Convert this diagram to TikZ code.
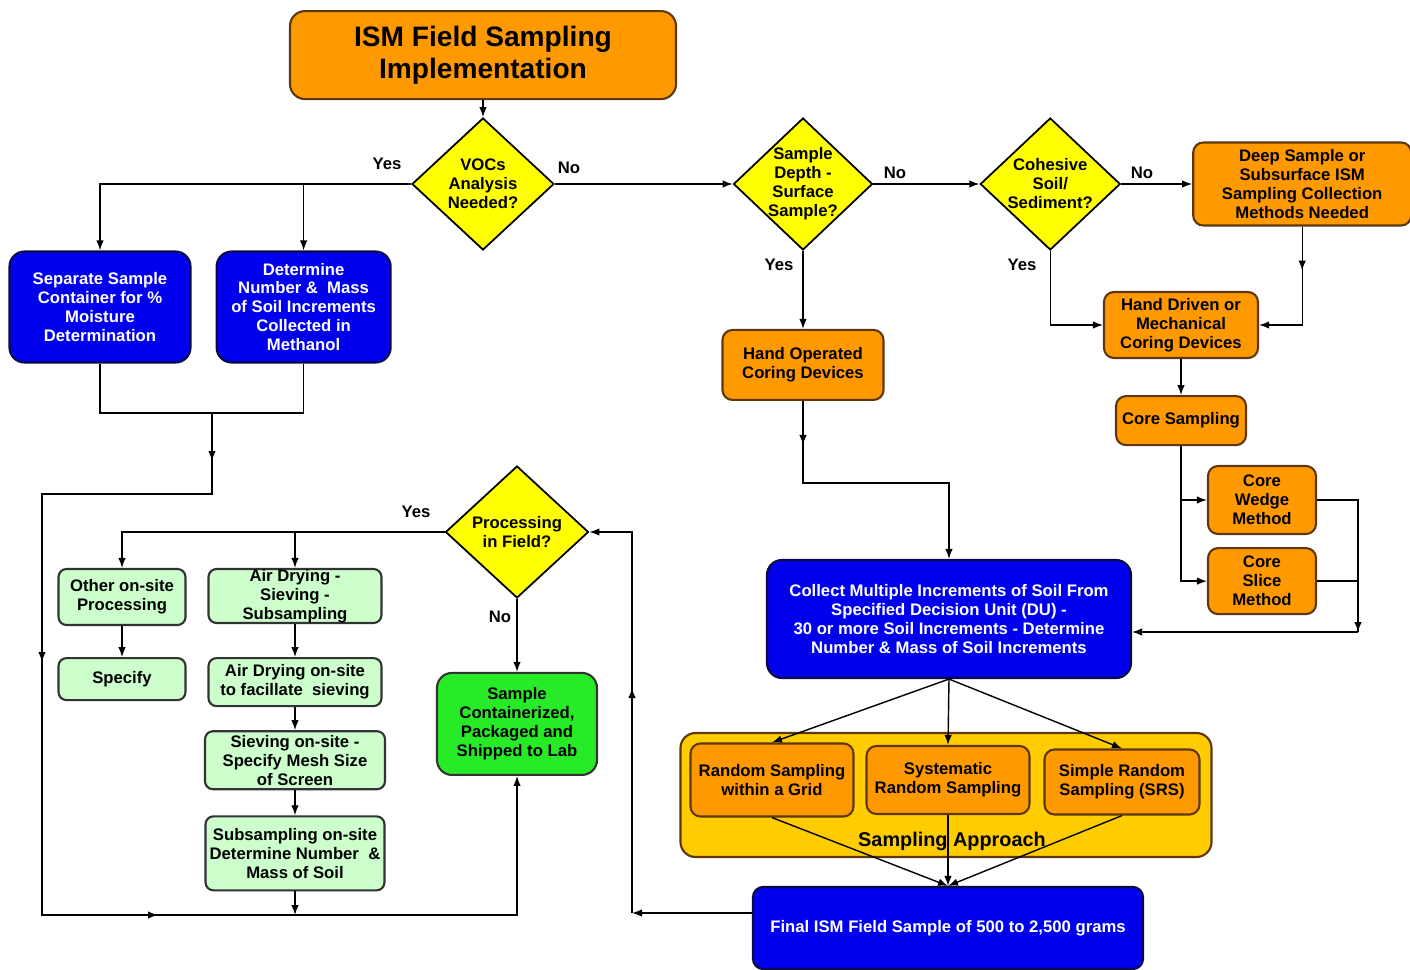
\documentclass[tikz,border=0pt]{standalone}
\usepackage{fontspec}
\setmainfont{Liberation Sans}
\usetikzlibrary{positioning,arrows,arrows.meta,shapes.geometric,calc}
\definecolor{ismorange}{RGB}{255,153,0}
\definecolor{ismblue}{RGB}{0,0,238}
\definecolor{ismyellow}{RGB}{255,255,0}
\definecolor{ismgold}{RGB}{255,204,0}
\definecolor{ismltgreen}{RGB}{204,255,204}
\definecolor{ismgreen}{RGB}{40,235,40}
\definecolor{ismedge}{RGB}{95,55,15}
\definecolor{ismnavy}{RGB}{10,10,70}
\newcommand{\boxfont}{\bfseries\fontsize{9.5}{10.8}\selectfont}
\tikzstyle{titlebox}=[rectangle, rounded corners=3mm, draw=ismedge, fill=ismorange,
 line width=1.2pt, minimum width=77.2mm, minimum height=17.6mm, align=center,
 font=\bfseries\fontsize{16}{18.5}\selectfont]
\tikzstyle{orangebox}=[rectangle, rounded corners=2mm, draw=ismedge, fill=ismorange,
 line width=1.2pt, inner sep=0pt, align=center, font=\boxfont]
\tikzstyle{bluebox}=[rectangle, rounded corners=3mm, draw=ismnavy, fill=ismblue, text=white,
 line width=1.2pt, inner sep=0pt, align=center, font=\boxfont]
\tikzstyle{greenbox}=[rectangle, rounded corners=3mm, draw=black!80, fill=ismgreen,
 line width=1.2pt, inner sep=0pt, align=center, font=\boxfont]
\tikzstyle{ltgreenbox}=[rectangle, rounded corners=1.6mm, draw=black!80, fill=ismltgreen,
 line width=1.2pt, inner sep=0pt, align=center, font=\boxfont]
\tikzstyle{goldbox}=[rectangle, rounded corners=3mm, draw=ismedge, fill=ismgold, line width=1.2pt]
\tikzstyle{decision}=[diamond, draw=black, fill=ismyellow, line width=1pt,
 minimum width=28.4mm, minimum height=26.4mm, inner sep=0pt]
\tikzstyle{dtext}=[align=center, inner sep=0pt, font=\boxfont]
\tikzstyle{lbl}=[font=\boxfont]
\tikzstyle{line}=[->, thick]
\tikzstyle{plain}=[-, thick]

\begin{document}
\begin{tikzpicture}[x=0.2mm, y=-0.2mm, >={Latex[length=2mm,width=1.5mm]}]
\fill[white] (0,0) rectangle (1410,970);
\useasboundingbox (0,0) rectangle (1410,970);

% top row of decisions
\node (vocs) [decision, label={[dtext]center:{VOCs\\Analysis\\Needed?}}] at (483,184) {};
\node (title) [titlebox, above=3.4mm of vocs] {ISM Field Sampling\\Implementation};
\node (depth) [decision, minimum width=27.8mm, label={[dtext]center:{Sample\\Depth -\\Surface\\Sample?}}] at (803,184) {};
\node (cohesive) [decision, minimum width=28mm, right=21.2mm of depth, label={[dtext]center:{Cohesive\\Soil/\\Sediment?}}] {};
\node (deep) [orangebox, minimum width=43.6mm, minimum height=16.6mm, right=14.2mm of cohesive] {Deep Sample or\\Subsurface ISM\\Sampling Collection\\Methods Needed};

% VOCs branch
\node (sep) [bluebox, minimum width=36.2mm, minimum height=22.2mm] at (100,307) {Separate Sample\\Container for \%\\Moisture\\Determination};
\node (det) [bluebox, minimum width=34.8mm, minimum height=22.2mm, right=4.8mm of sep] {Determine\\Number \& \ Mass\\of Soil Increments\\Collected in\\Methanol};

% coring devices
\node (handop) [orangebox, minimum width=32.2mm, minimum height=14mm, below=15.6mm of depth] {Hand Operated\\Coring Devices};
\node (handdriven) [orangebox, minimum width=30.8mm, minimum height=13.2mm] at (1181,325) {Hand Driven or\\Mechanical\\Coring Devices};
\node (coresamp) [orangebox, minimum width=26mm, minimum height=9.8mm, below=7.2mm of handdriven] {Core Sampling};
\node (wedge) [orangebox, minimum width=21.6mm, minimum height=13.6mm] at (1262,500) {Core\\Wedge\\Method};
\node (slice) [orangebox, minimum width=21.6mm, minimum height=13.2mm, below=2.4mm of wedge] {Core\\Slice\\Method};

% collection and sampling approach
\node (collect) [bluebox, minimum width=72.8mm, minimum height=23.6mm] at (949,619) {Collect Multiple Increments of Soil From\\Specified Decision Unit (DU) -\\30 or more Soil Increments - Determine\\Number \& Mass of Soil Increments};
\node (approach) [goldbox, minimum width=106.2mm, minimum height=24.8mm] at (946,795) {};
\node (randgrid) [orangebox, minimum width=32.6mm, minimum height=14.6mm] at (772,780) {Random Sampling\\within a Grid};
\node (systematic) [orangebox, minimum width=32.6mm, minimum height=13.6mm] at (948,780) {Systematic\\Random Sampling};
\node (srs) [orangebox, minimum width=31mm, minimum height=13mm] at (1122,782) {Simple Random\\Sampling (SRS)};
\node (apptext) [font=\bfseries\fontsize{11.3}{13}\selectfont] at (952,841) {Sampling Approach};
\node (final) [bluebox, minimum width=78mm, minimum height=16.4mm, rounded corners=2mm] at (948,928) {Final ISM Field Sample of 500 to 2,500 grams};

% field processing
\node (procfield) [decision, minimum width=28.6mm, label={[dtext]center:{Processing\\in Field?}}] at (517,532) {};
\node (shipped) [greenbox, minimum width=32mm, minimum height=20.4mm, below=14.6mm of procfield] {Sample\\Containerized,\\Packaged and\\Shipped to Lab};
\node (other) [ltgreenbox, minimum width=25.4mm, minimum height=11.2mm] at (122,597) {Other on-site\\Processing};
\node (specify) [ltgreenbox, minimum width=25.4mm, minimum height=8.4mm, below=6.2mm of other] {Specify};
\node (airdry) [ltgreenbox, minimum width=34.6mm, minimum height=10.8mm] at (295,596) {Air Drying -\\Sieving -\\Subsampling};
\node (airdryon) [ltgreenbox, minimum width=34.6mm, minimum height=9.6mm, below=6.6mm of airdry] {Air Drying on-site\\to facillate \ sieving};
\node (sieving) [ltgreenbox, minimum width=36mm, minimum height=11.6mm, below=4.6mm of airdryon] {Sieving on-site -\\Specify Mesh Size\\of Screen};
\node (subsamp) [ltgreenbox, minimum width=35.8mm, minimum height=14.8mm, below=5mm of sieving] {Subsampling on-site\\Determine Number \ \&\\Mass of Soil};

% yes / no labels
\node (yes1) [lbl] at (387,164) {Yes};
\node (no1) [lbl] at (569,168) {No};
\node (no2) [lbl] at (895,173) {No};
\node (no3) [lbl] at (1142,173) {No};
\node (yes2) [lbl] at (779,265) {Yes};
\node (yes3) [lbl] at (1022,265) {Yes};
\node (yes4) [lbl] at (416,512) {Yes};
\node (no4) [lbl] at (500,617) {No};

\coordinate (join) at (212,413);
\coordinate (leftc) at (42,494);
\coordinate (botl) at (42,915);
\coordinate (rightc) at (1358,632);
\coordinate (loopc) at (632,913);

\draw[line] (title.south) to (vocs.north);
\draw[line] (vocs.west) -| (sep.north);
\draw[line] (vocs.west) -| (det.north);
\draw[line] (vocs.east) to (depth.west);
\draw[line] (depth.east) to (cohesive.west);
\draw[line] (cohesive.east) to (deep.west);

\draw[line] (deep.south) |- (handdriven.east);
\draw[line] (deep.south) -- ++(0,44);
\draw[line] (cohesive.south) |- (handdriven.west);
\draw[line] (handdriven.south) to (coresamp.north);
\draw[line] (coresamp.south) |- (wedge.west);
\draw[line] (coresamp.south) |- (slice.west);
\draw[plain] (wedge.east) -| (rightc);
\draw[plain] (slice.east) -| (rightc);
\draw[line] (slice.east -| rightc) -- (rightc);
\draw[line] (rightc) -- (collect.east |- rightc);

\draw[line] (depth.south) to (handop.north);
\draw[line] (handop.south) -- ++(0,44);
\draw[line] (handop.south) -- ++(0,82) -| (collect.north);

\draw[line] (collect.south) to (randgrid.north);
\draw[line] (collect.south) to (systematic.north);
\draw[line] (collect.south) to (srs.north);
\draw[line] (randgrid.south) to (final.north);
\draw[line] (systematic.south) to (final.north);
\draw[line] (srs.south) to (final.north);

\draw[line] (final.west |- loopc) -- (loopc);
\draw[line] (loopc) -- ++(0,-225);
\draw[line] (loopc) |- (procfield.east);

\draw[line] (procfield.west) -| (other.north);
\draw[line] (procfield.west) -| (airdry.north);
\draw[line] (procfield.south) to (shipped.north);
\draw[line] (other.south) to (specify.north);
\draw[line] (airdry.south) to (airdryon.north);
\draw[line] (airdryon.south) to (sieving.north);
\draw[line] (sieving.south) to (subsamp.north);
\draw[line] (subsamp.south) -- (subsamp.south |- botl);

\draw[plain] (sep.south) |- (join) -| (det.south);
\draw[line] (join) -- ++(0,48);
\draw[line] (join) |- (leftc) -- (botl) -| (shipped.south);
\draw[line] (leftc) -- ++(0,168);
\draw[line] (botl) -- ++(116,0);

\end{tikzpicture}
\end{document}
